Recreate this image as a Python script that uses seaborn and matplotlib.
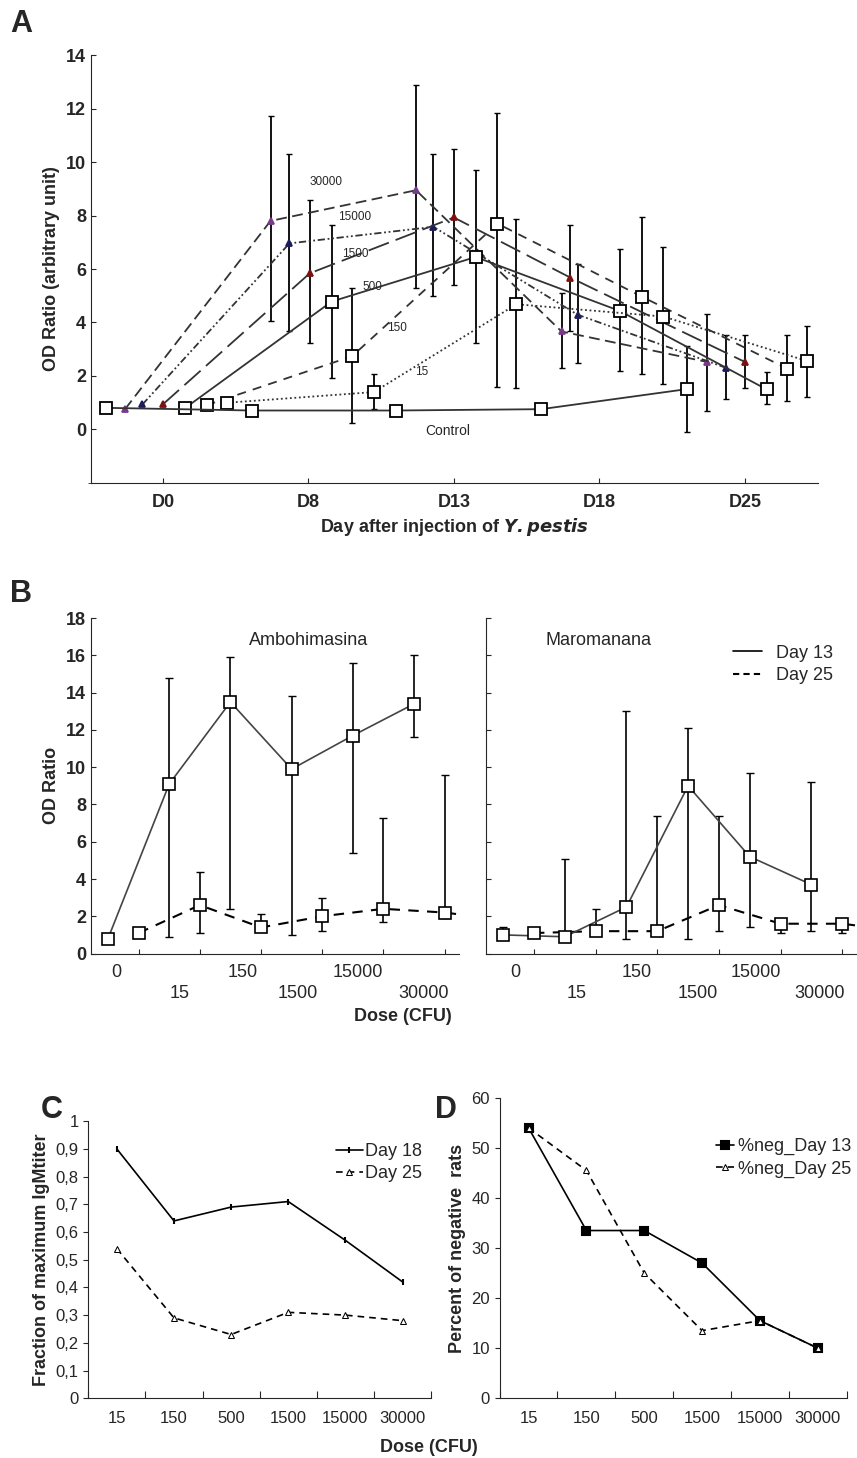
import numpy as np
import pandas as pd
import matplotlib
matplotlib.use("Agg")
import matplotlib.pyplot as plt
from matplotlib.lines import Line2D
import seaborn as sns

sns.set_style("ticks")
plt.rcParams['font.family'] = ['Liberation Sans', 'DejaVu Sans']

# ---- Panel A data (x = position in day slots, D0..D25 -> 0..4) ----
a_days = ['D0', 'D8', 'D13', 'D18', 'D25']
a_series = {
    # name: (x, y, lo, hi)
    '30000': ([-0.26, 0.74, 1.74, 2.74, 3.74], [0.75, 7.8, 8.95, 3.66, 2.52],
              [0.75, 4.06, 5.28, 2.30, 0.68], [0.75, 11.74, 12.9, 5.09, 4.31]),
    '15000': ([-0.14, 0.87, 1.86, 2.85, 3.87], [0.93, 6.96, 7.58, 4.29, 2.30],
              [0.93, 3.66, 4.99, 2.48, 1.14], [0.93, 10.3, 10.3, 6.17, 3.52]),
    '1500': ([0.0, 1.01, 2.0, 2.8, 4.0], [0.93, 5.84, 7.93, 5.68, 2.52],
             [0.93, 3.23, 5.4, 3.66, 1.55], [1.1, 8.6, 10.5, 7.66, 3.52]),
    '500': ([0.15, 1.16, 2.15, 3.14, 4.15], [0.78, 4.78, 6.45, 4.43, 1.49],
            [0.78, 1.93, 3.23, 2.17, 0.93], [0.78, 7.66, 9.69, 6.75, 2.15]),
    '150': ([0.30, 1.30, 2.30, 3.29, 4.29], [0.90, 2.73, 7.70, 4.97, 2.27],
            [0.90, 0.25, 1.58, 2.05, 1.06], [0.90, 5.30, 11.86, 7.95, 3.52]),
    '15': ([0.44, 1.45, 2.43, 3.44, 4.43], [0.99, 1.39, 4.68, 4.22, 2.55],
           [0.99, 0.75, 1.55, 1.70, 1.20], [0.99, 2.07, 7.89, 6.81, 3.85]),
    'Control': ([-0.39, 0.61, 1.60, 2.60, 3.60], [0.8, 0.7, 0.7, 0.75, 1.5],
                [0.8, 0.7, 0.7, 0.75, -0.1], [0.8, 0.7, 0.9, 0.75, 3.1]),
}
a_label_pos = {'30000': (1.12, 9.25), '15000': (1.32, 7.95), '1500': (1.32, 6.58),
               '500': (1.44, 5.34), '150': (1.61, 3.79), '15': (1.78, 2.15),
               'Control': (1.96, -0.06)}
a_style = {
    '30000': dict(ls=(0, (6, 3)), marker='^', mfc='#7a3a8a', mec='#7a3a8a', ms=5),
    '15000': dict(ls=(0, (4, 1.5, 1, 1.5, 1, 1.5)), marker='^', mfc='#1c1c5c', mec='#1c1c5c', ms=5),
    '1500': dict(ls=(0, (12, 4)), marker='^', mfc='#7a1010', mec='#7a1010', ms=5),
    '500': dict(ls='-', marker='s', mfc='white', mec='black', ms=8),
    '150': dict(ls=(0, (5, 4)), marker='s', mfc='white', mec='black', ms=8),
    '15': dict(ls=(0, (1, 1.5)), marker='s', mfc='white', mec='black', ms=8),
    'Control': dict(ls='-', marker='s', mfc='white', mec='black', ms=8),
}

# ---- Panel B data ----
b_doses = ['0', '15', '150', '1500', '15000', '30000']
amb_d13 = [0.8, 9.1, 13.5, 9.9, 11.7, 13.4]
amb_d13_lo = [0.8, 0.9, 2.4, 1.0, 5.4, 11.6]
amb_d13_hi = [0.8, 14.8, 15.9, 13.8, 15.6, 16.0]
amb_d25 = [1.1, 2.6, 1.4, 2.0, 2.4, 2.2]
amb_d25_lo = [1.1, 1.1, 1.4, 1.2, 1.7, 1.9]
amb_d25_hi = [1.1, 4.4, 2.1, 3.0, 7.3, 9.6]
mar_d13 = [1.0, 0.9, 2.5, 9.0, 5.2, 3.7]
mar_d13_lo = [1.0, 0.9, 0.8, 0.8, 1.4, 1.2]
mar_d13_hi = [1.4, 5.1, 13.0, 12.1, 9.7, 9.2]
mar_d25 = [1.1, 1.2, 1.2, 2.6, 1.6, 1.6]
mar_d25_lo = [1.1, 1.2, 1.2, 1.2, 1.1, 1.1]
mar_d25_hi = [1.1, 2.4, 7.4, 7.4, 1.6, 1.6]

# ---- Panels C, D data ----
cd_doses = ['15', '150', '500', '1500', '15000', '30000']
c_day18 = [0.90, 0.64, 0.69, 0.71, 0.57, 0.42]
c_day25 = [0.54, 0.29, 0.23, 0.31, 0.30, 0.28]
d_day13 = [54, 33.5, 33.5, 27, 15.5, 10]
d_day25 = [54, 45.5, 25, 13.5, 15.5, 10]

fig = plt.figure(figsize=(8.57, 14.58), dpi=100)

# ================= Panel A =================
axA = fig.add_axes([0.106, 0.669, 0.848, 0.293])
for name, (x, y, lo, hi) in a_series.items():
    st = a_style[name]
    y = np.array(y); lo = np.array(lo); hi = np.array(hi)
    axA.errorbar(x[1:], y[1:], yerr=[y[1:] - lo[1:], hi[1:] - y[1:]], fmt='none',
                 ecolor='black', elinewidth=1.3, capsize=2, zorder=2)
    sns.lineplot(x=x, y=y, ax=axA, color='#333333', lw=1.3, linestyle=st['ls'],
                 marker=st['marker'], markerfacecolor=st['mfc'], markeredgecolor=st['mec'],
                 markeredgewidth=1.3, markersize=st['ms'], zorder=3, sort=False)
    lx, ly = a_label_pos[name]
    axA.text(lx, ly, name, fontsize=8.5 if name != 'Control' else 10, ha='center', va='center')
axA.set_xlim(-0.495, 4.50)
axA.set_ylim(-2, 14)
axA.set_yticks([0, 2, 4, 6, 8, 10, 12, 14])
axA.set_yticks([-2], minor=True)
axA.set_xticks(range(5))
axA.set_xticklabels(a_days, fontsize=13, fontweight='bold')
axA.tick_params(axis='y', labelsize=13, direction='in')
for t in axA.get_yticklabels():
    t.set_fontweight('bold')
axA.tick_params(axis='x', direction='in', pad=8)
axA.set_ylabel('OD Ratio (arbitrary unit)', fontsize=13, fontweight='bold')
axA.set_xlabel('Day after injection of $\\bfit{Y.pestis}$', fontsize=13, fontweight='bold')
sns.despine(ax=axA)
fig.text(0.012, 0.978, 'A', fontsize=22, fontweight='bold')

# ================= Panel B =================
def panel_b(ax, d13, lo13, hi13, d25, lo25, hi25, title, title_x, lab_off):
    x13 = np.arange(len(b_doses))
    x25 = x13 + 0.5
    d13 = np.array(d13); d25 = np.array(d25)
    ax.errorbar(x13, d13, yerr=[d13 - np.array(lo13), np.array(hi13) - d13], fmt='none',
                ecolor='black', elinewidth=1.2, capsize=3)
    ax.errorbar(x25, d25, yerr=[d25 - np.array(lo25), np.array(hi25) - d25], fmt='none',
                ecolor='black', elinewidth=1.2, capsize=3)
    sns.lineplot(x=x13, y=d13, ax=ax, color='#444444', lw=1.2, marker='s', markersize=8,
                 markerfacecolor='white', markeredgecolor='black', markeredgewidth=1.2, zorder=3)
    sns.lineplot(x=np.append(x25, 5.74), y=np.append(d25, d25[-1] - 0.1), ax=ax,
                 color='black', lw=1.5, linestyle=(0, (5, 4)), zorder=2)
    sns.lineplot(x=x25, y=d25, ax=ax, color='black', lw=0, marker='s', markersize=8,
                 markerfacecolor='white', markeredgecolor='black', markeredgewidth=1.2, zorder=3)
    ax.set_xlim(-0.28, 5.74)
    ax.set_ylim(0, 18)
    ax.set_yticks(range(0, 19, 2))
    ax.set_xticks(np.arange(0.5, 6, 1))
    ax.set_xticklabels([])
    ax.tick_params(direction='in')
    for i, lab in enumerate(b_doses):
        ax.text(i + lab_off[i], -0.03 if i % 2 == 0 else -0.095, lab, fontsize=13,
                ha='center', va='top', transform=ax.get_xaxis_transform())
    ax.text(title_x, 16.8, title, fontsize=13, ha='center', va='center')
    sns.despine(ax=ax)

axB1 = fig.add_axes([0.106, 0.346, 0.430, 0.230])
panel_b(axB1, amb_d13, amb_d13_lo, amb_d13_hi, amb_d25, amb_d25_lo, amb_d25_hi,
        'Ambohimasina', 3.27, [0.13, 0.17, 0.2, 0.1, 0.08, 0.16])
axB1.tick_params(axis='y', labelsize=13)
for t in axB1.get_yticklabels():
    t.set_fontweight('bold')
axB1.set_ylabel('OD Ratio', fontsize=13, fontweight='bold')

axB2 = fig.add_axes([0.567, 0.346, 0.433, 0.230])
panel_b(axB2, mar_d13, mar_d13_lo, mar_d13_hi, mar_d25, mar_d25_lo, mar_d25_hi,
        'Maromanana', 1.54, [0.2, 0.19, 0.17, 0.16, 0.1, 0.13])
axB2.set_yticklabels([])
axB2.legend(handles=[Line2D([], [], color='black', lw=1.2, label='Day 13'),
                     Line2D([], [], color='black', lw=1.5, ls=(0, (3, 2)), label='Day 25')],
            loc='upper right', bbox_to_anchor=(0.98, 0.97), frameon=False, fontsize=13,
            handlelength=1.6, labelspacing=0.3)
fig.text(0.47, 0.300, 'Dose (CFU)', fontsize=13, fontweight='bold', ha='center')
fig.text(0.012, 0.587, 'B', fontsize=22, fontweight='bold')

# ================= Panels C, D =================
def panel_cd(ax, s1, s2, n1, n2, mk1):
    x = np.arange(len(cd_doses))
    sns.lineplot(x=x, y=s1, ax=ax, color='black', lw=1.2, marker=mk1, markersize=6 if mk1 == 's' else 5,
                 markerfacecolor='black', markeredgecolor='black', markeredgewidth=1.5, label=n1)
    sns.lineplot(x=x, y=s2, ax=ax, color='black', lw=1.2, linestyle=(0, (4, 3)), marker='^',
                 markersize=5, markerfacecolor='white', markeredgecolor='black', label=n2)
    ax.set_xlim(-0.5, 5.5)
    ax.set_xticks(np.arange(-0.5, 6, 1))
    ax.set_xticklabels([])
    ax.set_xticks(x, minor=True)
    ax.set_xticklabels(cd_doses, minor=True, fontsize=12)
    ax.tick_params(axis='x', which='minor', length=0, pad=9)
    ax.tick_params(axis='x', which='major', direction='in', length=5)
    ax.tick_params(axis='y', labelsize=12)
    sns.despine(ax=ax)

axC = fig.add_axes([0.103, 0.041, 0.400, 0.190])
panel_cd(axC, c_day18, c_day25, 'Day 18', 'Day 25', '|')
axC.set_ylim(0, 1)
axC.set_yticks(np.arange(0, 1.01, 0.1))
axC.set_yticklabels(['0'] + [f'{v:.1f}'.replace('.', ',') for v in np.arange(0.1, 0.95, 0.1)] + ['1'])
axC.set_ylabel('Fraction of maximum IgMtiter', fontsize=13, fontweight='bold')
axC.legend(loc='upper right', bbox_to_anchor=(1.02, 0.98), frameon=False, fontsize=13,
           handlelength=1.5, handletextpad=0.1, labelspacing=0.3)
fig.text(0.048, 0.233, 'C', fontsize=22, fontweight='bold')

axD = fig.add_axes([0.583, 0.041, 0.405, 0.206])
panel_cd(axD, d_day13, d_day25, '%neg_Day 13', '%neg_Day 25', 's')
axD.set_ylim(0, 60)
axD.set_yticks(range(0, 61, 10))
axD.set_ylabel('Percent of negative  rats', fontsize=13, fontweight='bold')
axD.legend(loc='upper right', bbox_to_anchor=(1.06, 0.92), frameon=False, fontsize=13,
           handlelength=1.0, handletextpad=0.2, labelspacing=0.3)
fig.text(0.508, 0.233, 'D', fontsize=22, fontweight='bold')
fig.text(0.50, 0.004, 'Dose (CFU)', fontsize=13, fontweight='bold', ha='center')

fig.savefig('out.png', dpi=100)
